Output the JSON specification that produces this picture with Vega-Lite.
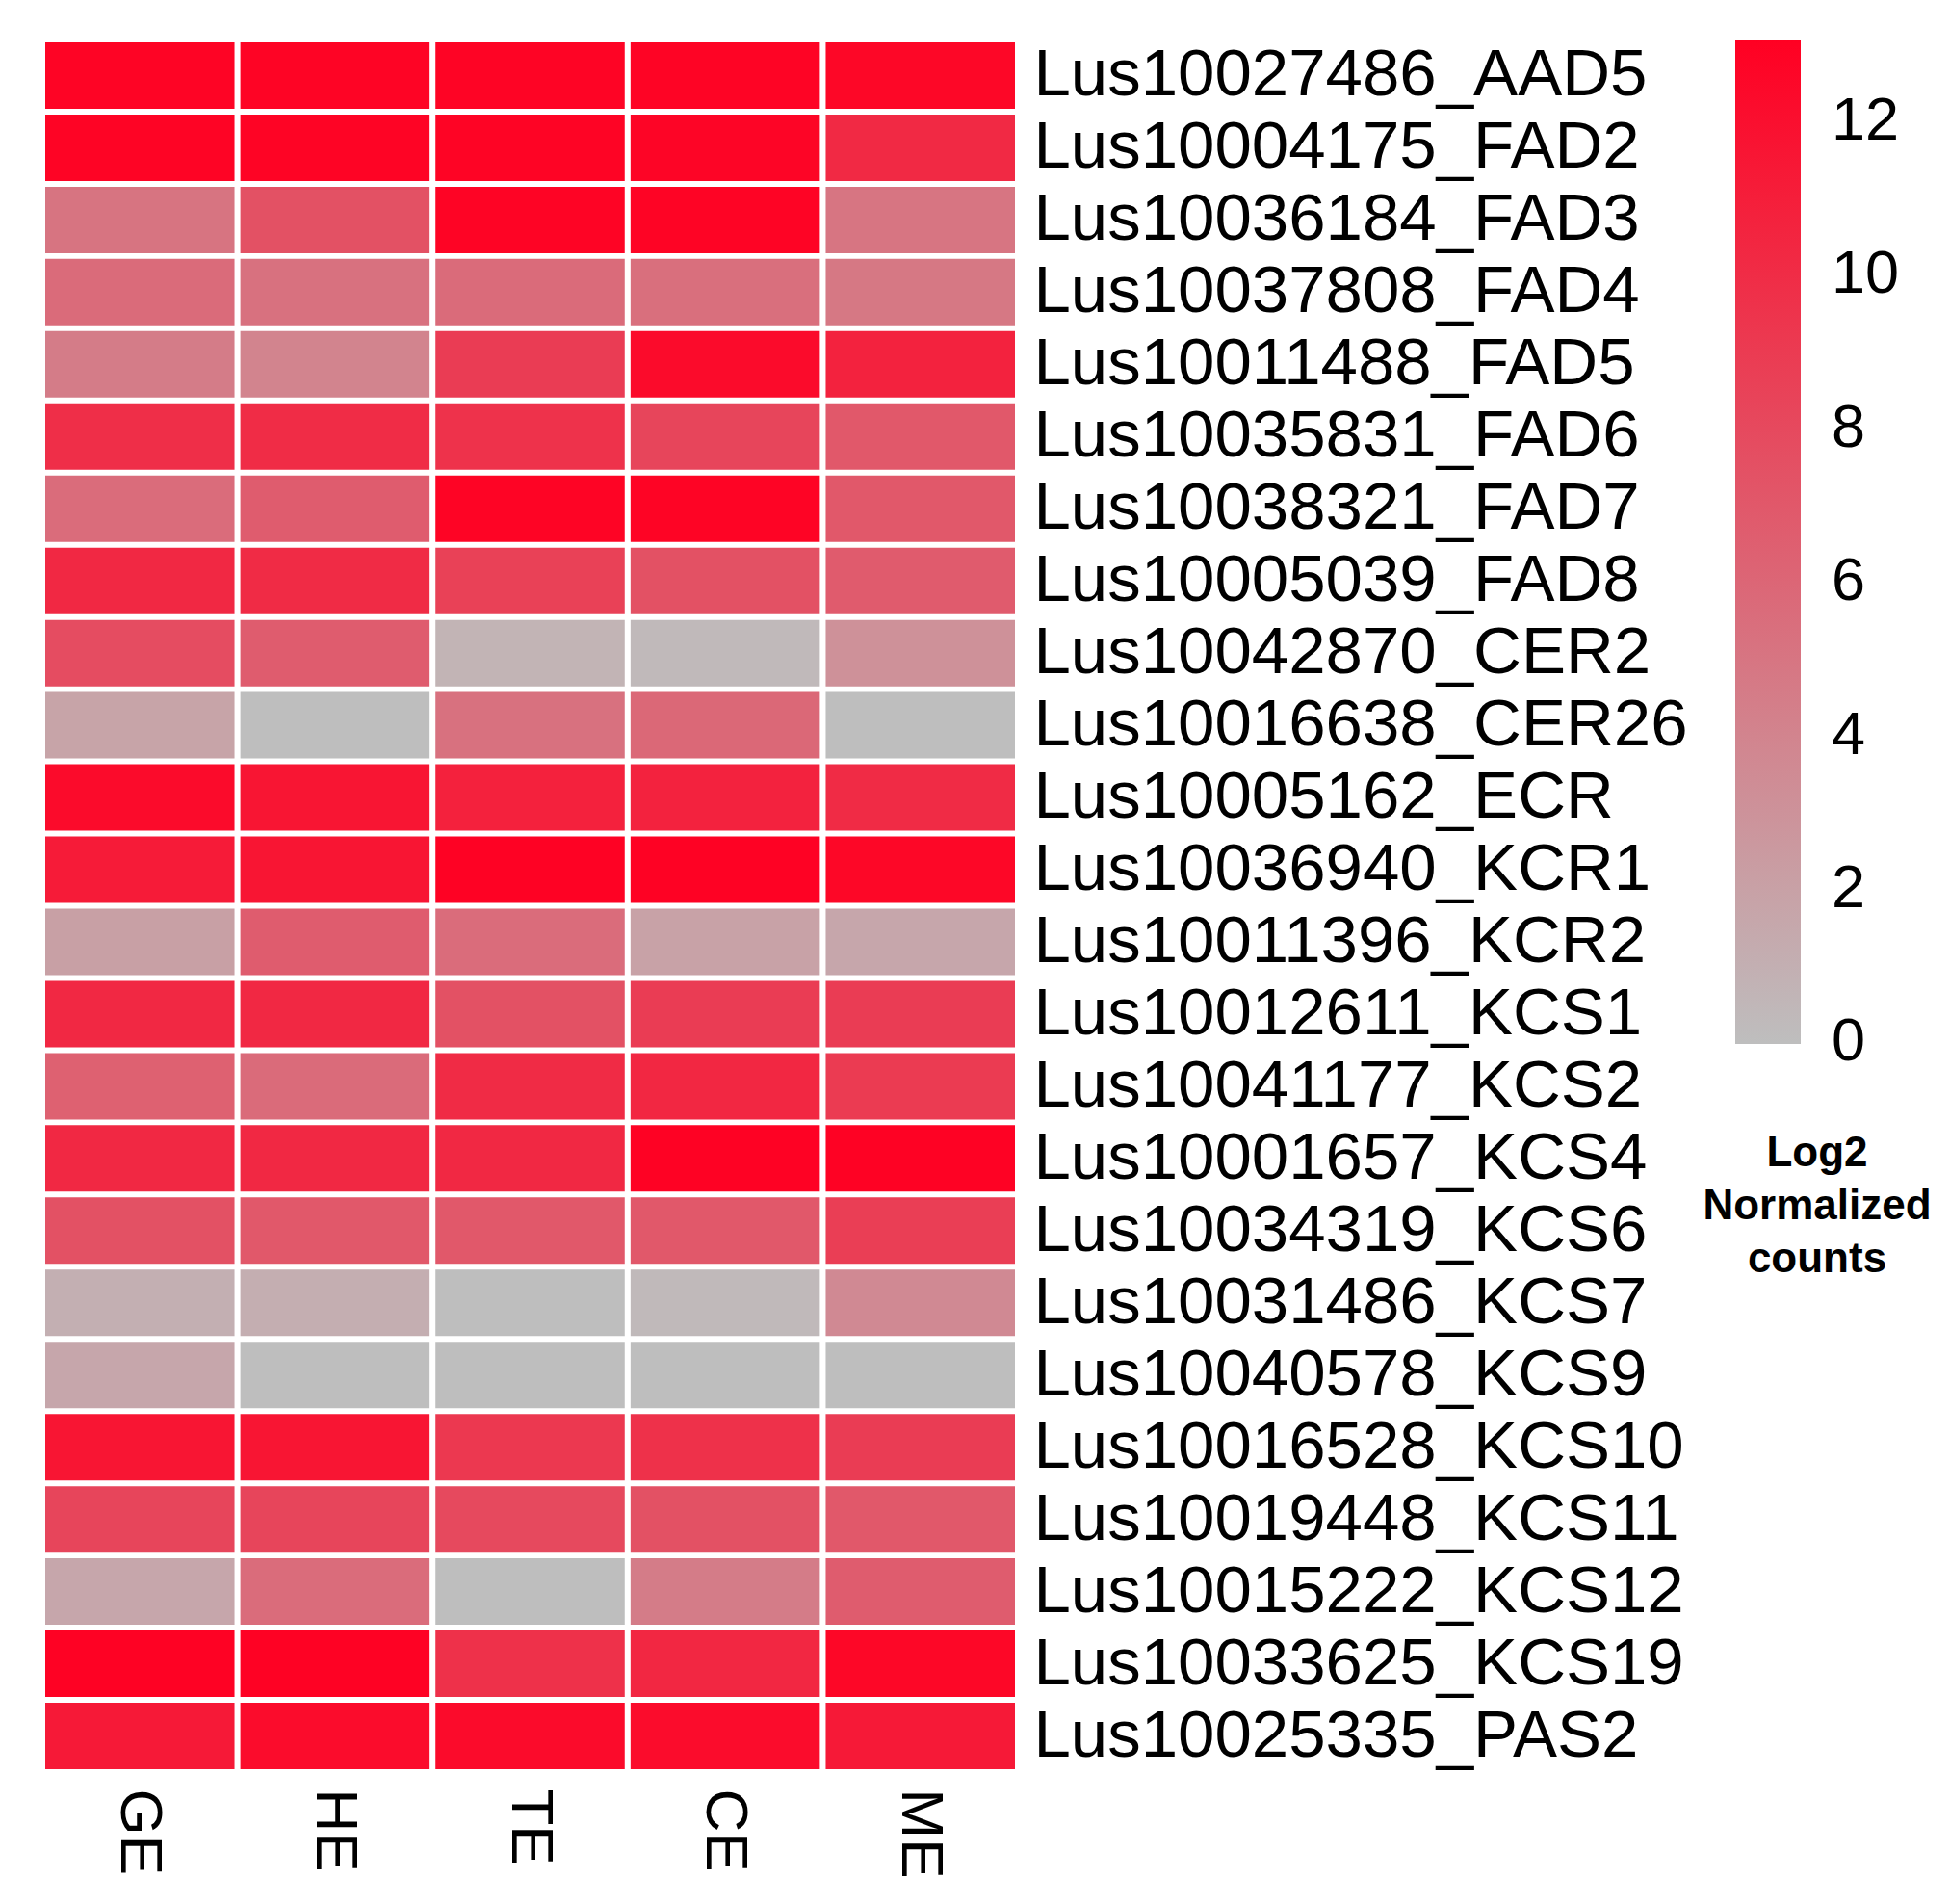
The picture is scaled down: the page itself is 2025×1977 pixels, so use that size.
{
  "$schema": "https://vega.github.io/schema/vega-lite/v6.json",
  "autosize": {"type": "none"},
  "width": 1007,
  "height": 1793,
  "padding": {"left": 47, "top": 44, "right": 971, "bottom": 140},
  "background": "white",
  "config": {"view": {"stroke": null}, "font": "Liberation Sans"},
  "data": {"values": [
    {"gene": "Lus10027486_AAD5", "GE": 12.8, "HE": 12.8, "TE": 12.8, "CE": 12.8, "ME": 12.6},
    {"gene": "Lus10004175_FAD2", "GE": 12.8, "HE": 12.8, "TE": 12.8, "CE": 12.7, "ME": 10.2},
    {"gene": "Lus10036184_FAD3", "GE": 5.1, "HE": 7.5, "TE": 12.8, "CE": 12.8, "ME": 5.0},
    {"gene": "Lus10037808_FAD4", "GE": 5.7, "HE": 5.3, "TE": 5.7, "CE": 5.4, "ME": 4.8},
    {"gene": "Lus10011488_FAD5", "GE": 4.5, "HE": 4.0, "TE": 8.9, "CE": 12.3, "ME": 10.7},
    {"gene": "Lus10035831_FAD6", "GE": 9.9, "HE": 10.0, "TE": 9.6, "CE": 8.3, "ME": 7.0},
    {"gene": "Lus10038321_FAD7", "GE": 5.6, "HE": 6.7, "TE": 12.8, "CE": 12.8, "ME": 7.0},
    {"gene": "Lus10005039_FAD8", "GE": 10.3, "HE": 10.1, "TE": 8.6, "CE": 7.5, "ME": 6.8},
    {"gene": "Lus10042870_CER2", "GE": 7.8, "HE": 6.7, "TE": 0.7, "CE": 0.3, "ME": 3.1},
    {"gene": "Lus10016638_CER26", "GE": 1.8, "HE": 0.0, "TE": 5.3, "CE": 5.9, "ME": 0.0},
    {"gene": "Lus10005162_ECR", "GE": 12.3, "HE": 11.6, "TE": 10.8, "CE": 10.7, "ME": 10.1},
    {"gene": "Lus10036940_KCR1", "GE": 11.2, "HE": 11.6, "TE": 12.9, "CE": 12.9, "ME": 12.6},
    {"gene": "Lus10011396_KCR2", "GE": 2.05, "HE": 6.7, "TE": 5.6, "CE": 1.9, "ME": 1.6},
    {"gene": "Lus10012611_KCS1", "GE": 10.3, "HE": 10.3, "TE": 7.5, "CE": 8.9, "ME": 8.9},
    {"gene": "Lus10041177_KCS2", "GE": 6.4, "HE": 5.7, "TE": 10.1, "CE": 10.4, "ME": 9.0},
    {"gene": "Lus10001657_KCS4", "GE": 10.3, "HE": 10.3, "TE": 10.3, "CE": 12.9, "ME": 12.9},
    {"gene": "Lus10034319_KCS6", "GE": 7.5, "HE": 7.0, "TE": 7.0, "CE": 7.0, "ME": 8.8},
    {"gene": "Lus10031486_KCS7", "GE": 1.0, "HE": 1.1, "TE": 0.0, "CE": 0.3, "ME": 3.6},
    {"gene": "Lus10040578_KCS9", "GE": 1.6, "HE": 0.0, "TE": 0.0, "CE": 0.0, "ME": 0.0},
    {"gene": "Lus10016528_KCS10", "GE": 11.6, "HE": 11.6, "TE": 9.2, "CE": 9.7, "ME": 8.9},
    {"gene": "Lus10019448_KCS11", "GE": 8.3, "HE": 8.3, "TE": 8.0, "CE": 7.5, "ME": 7.0},
    {"gene": "Lus10015222_KCS12", "GE": 1.6, "HE": 5.6, "TE": 0.0, "CE": 4.5, "ME": 6.7},
    {"gene": "Lus10033625_KCS19", "GE": 12.9, "HE": 12.9, "TE": 9.7, "CE": 10.4, "ME": 12.6},
    {"gene": "Lus10025335_PAS2", "GE": 11.3, "HE": 12.2, "TE": 12.3, "CE": 12.2, "ME": 11.3}
  ]},
  "transform": [
    {"fold": ["GE", "HE", "TE", "CE", "ME"], "as": ["tissue", "value"]}
  ],
  "mark": {"type": "rect"},
  "encoding": {
    "x": {
      "field": "tissue", "type": "nominal",
      "sort": ["GE", "HE", "TE", "CE", "ME"],
      "scale": {"paddingInner": 0.03, "paddingOuter": 0},
      "axis": {
        "title": null, "orient": "bottom", "labelAngle": 90, "labelAlign": "left", "labelBaseline": "middle",
        "labelFontSize": 62, "labelColor": "black", "labelPadding": 20,
        "ticks": false, "domain": false, "labelFont": "Liberation Sans"
      }
    },
    "y": {
      "field": "gene", "type": "nominal", "sort": null,
      "scale": {"paddingInner": 0.08, "paddingOuter": 0},
      "axis": {
        "title": null, "orient": "right", "labelFontSize": 69, "labelColor": "black",
        "labelPadding": 19, "ticks": false, "domain": false, "labelFont": "Liberation Sans",
        "labelLimit": 2000
      }
    },
    "color": {
      "field": "value", "type": "quantitative",
      "scale": {"domain": [-0.02, 13.05], "range": ["#BEBEBE", "#FF0022"], "interpolate": "rgb"},
      "legend": {
        "orient": "none", "legendX": 1721, "legendY": -2, "direction": "vertical",
        "gradientLength": 1042, "gradientThickness": 68, "gradientStrokeWidth": 0,
        "values": [0, 2, 4, 6, 8, 10, 12], "format": "d",
        "labelFontSize": 63, "labelColor": "black", "labelOffset": 32, "labelBaseline": "middle",
        "labelFont": "Liberation Sans", "labelOverlap": false,
        "title": ["Log2", "Normalized", "counts"], "titleOrient": "bottom", "titleAnchor": "middle",
        "titleAlign": "center", "titleFontSize": 44, "titleFontWeight": "bold", "titleColor": "black",
        "titleLineHeight": 55, "titlePadding": 62, "titleFont": "Liberation Sans", "titleLimit": 1000
      }
    }
  }
}
